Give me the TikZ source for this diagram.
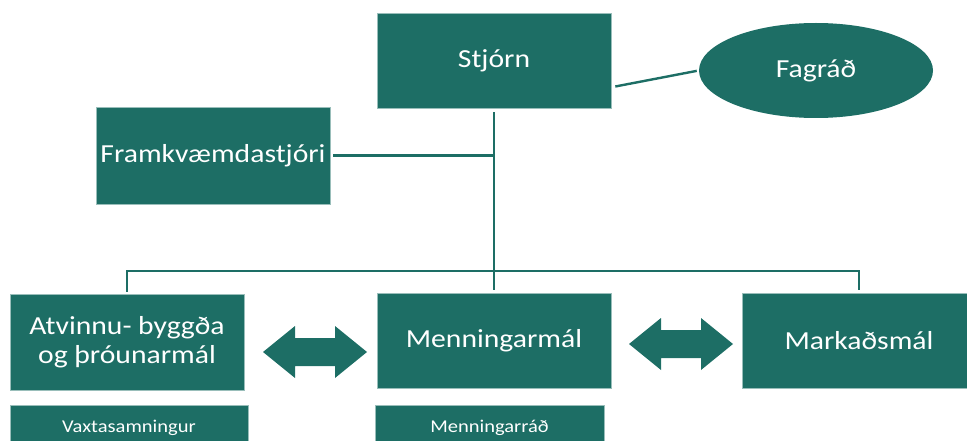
\documentclass[tikz,border=0pt]{standalone}
\usepackage{fontspec}
\setmainfont[FakeStretch=1.14]{Carlito}
\usetikzlibrary{shapes.geometric}

\begin{document}
\begin{tikzpicture}[x=1pt,y=-1pt]
  % Colors
  \definecolor{boxcolor}{RGB}{29,110,101}
  \colorlet{edgecolor}{boxcolor!45!white}

  % Styles
  \tikzstyle{unit}=[rectangle,fill=boxcolor,draw=edgecolor,line width=0.6pt,
    text=white,inner sep=0pt,align=center,minimum width=234pt,minimum height=95pt,
    font=\fontsize{26}{29}\selectfont]
  \tikzstyle{council}=[unit,minimum height=46pt,font=\fontsize{18}{20}\selectfont]
  \tikzstyle{link}=[draw=boxcolor,line width=2.8pt]

  \useasboundingbox (0,0) rectangle (967,441);

  % The boxes
  \node[unit] (stjorn) at (494,60.5) {Stjórn};
  \node[unit,ellipse,draw=none] (fagrad) at (816,70.5) {Fagráð};
  \node[unit,minimum height=97pt] (framkv) at (213,155.5) {Framkvæmdastjóri};

  \node[unit,minimum height=96pt] (atvinnu) at (127,342) {Atvinnu- byggða\\og þróunarmál};
  \node[unit] (menning) at (494,340.5) {Menningarmál};
  \node[unit] (markads) at (859,340.5) {Markaðsmál};

  \node[council,minimum width=238pt] (vaxta) at (129,428) {Vaxtasamningur};
  \node[council,minimum width=229pt] (menrad) at (489.5,428) {Menningarráð};

  % The lines
  \coordinate (rail) at (494,271);
  \draw[link,shorten <=4pt,shorten >=3pt] (stjorn.south) -- (menning.north);
  \draw[link,shorten <=3pt] (framkv.east) -- (framkv.east -| stjorn.south);
  \draw[link,shorten <=2pt,shorten >=3pt] (atvinnu.north) |- (rail) -| (markads.north);
  \draw[link,line width=2.4pt,shorten >=2pt] ([xshift=4pt,yshift=-26pt]stjorn.east) -- (fagrad.west);

  % The double arrows
  \foreach \tip/\mid in {263/352, 629/344}
    \fill[boxcolor] (\tip,\mid) -- ++(32,-26) -- ++(0,12) -- ++(40,0) -- ++(0,-12)
      -- ++(32,26) -- ++(-32,26) -- ++(0,-12) -- ++(-40,0) -- ++(0,12) -- cycle;
\end{tikzpicture}
\end{document}
